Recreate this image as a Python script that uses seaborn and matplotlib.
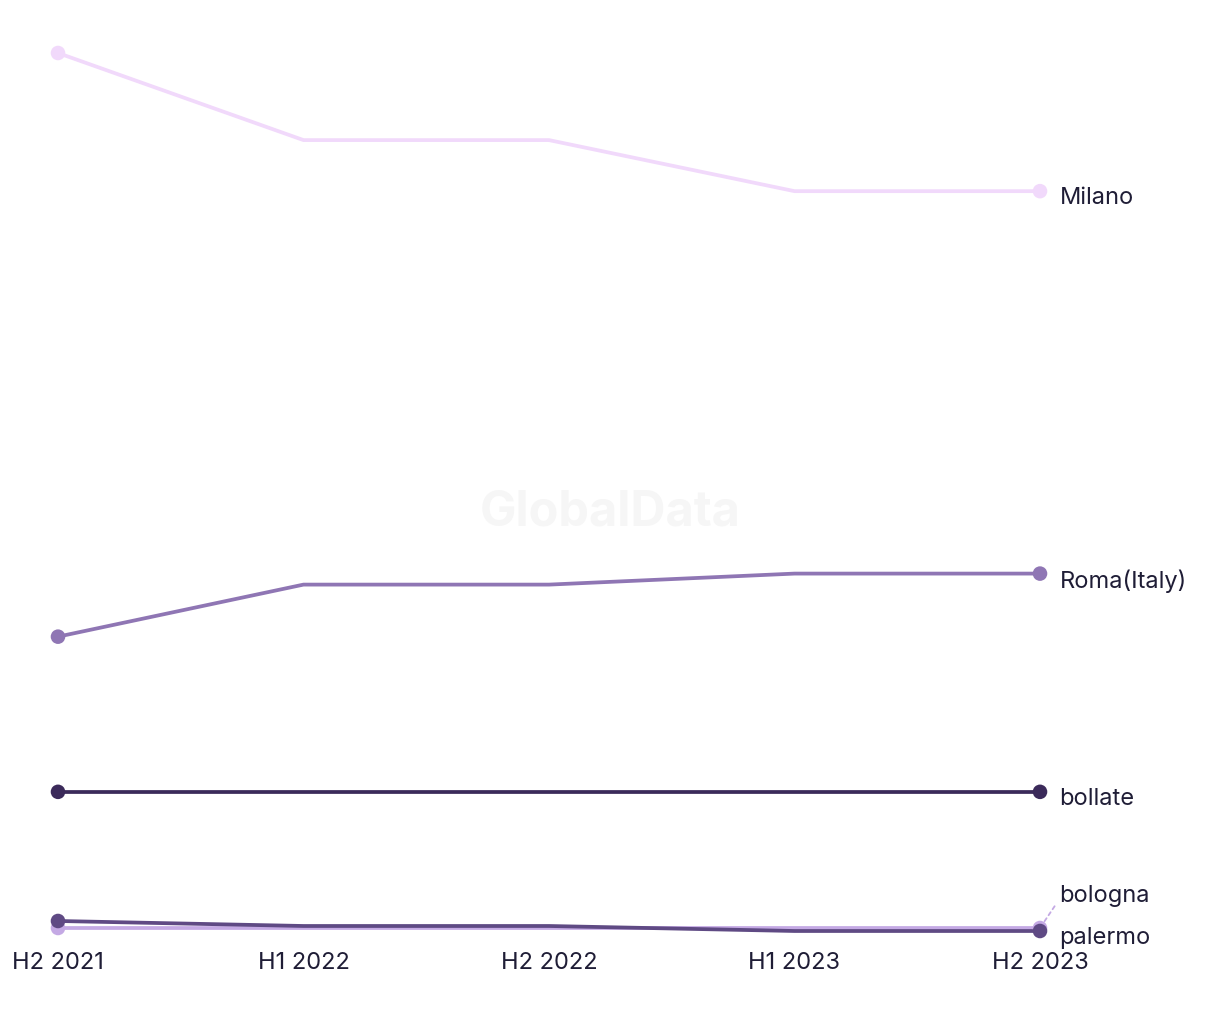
import matplotlib
matplotlib.use("Agg")
import matplotlib.pyplot as plt
import seaborn as sns
import pandas as pd

periods = ["H2 2021", "H1 2022", "H2 2022", "H1 2023", "H2 2023"]
milano = [87.9, 79.2, 79.2, 74.1, 74.1]
roma = [29.6, 34.8, 34.8, 35.9, 35.9]
bollate = [14.1, 14.1, 14.1, 14.1, 14.1]
bologna = [0.5, 0.5, 0.5, 0.5, 0.5]
palermo = [1.2, 0.7, 0.7, 0.2, 0.2]

series = {"Milano": milano, "Roma(Italy)": roma, "bollate": bollate,
          "bologna": bologna, "palermo": palermo}
colors = {"Milano": "#f1d9fb", "Roma(Italy)": "#8f76b4", "bollate": "#3b2a5a",
          "bologna": "#c4a9e4", "palermo": "#5f4a84"}
order = ["Milano", "Roma(Italy)", "bollate", "bologna", "palermo"]

rows = []
for name, vals in series.items():
    for i, (p, v) in enumerate(zip(periods, vals)):
        rows.append({"period": p, "idx": i, "city": name, "value": v})
df = pd.DataFrame(rows)

sns.set_theme(style="white")
plt.rcParams['font.family'] = ['Inter', 'DejaVu Sans']

fig = plt.figure(figsize=(12.2, 10.2), dpi=100)
ax = fig.add_axes([58/1220, (1020-934)/1020, (1040-58)/1220, (934-54)/1020])

sns.lineplot(data=df, x="idx", y="value", hue="city", palette=colors,
             linewidth=2.7, legend=False, ax=ax, clip_on=False, hue_order=order)
ends = df[df["idx"].isin([0, len(periods) - 1])]
sns.scatterplot(data=ends, x="idx", y="value", hue="city", palette=colors,
                s=110, edgecolor="none", legend=False, ax=ax, clip_on=False, zorder=5,
                hue_order=order)

ax.set_xlim(0, len(periods) - 1)
ax.set_ylim(0, 87.9)
ax.set_xticks(range(len(periods)))
ax.set_xticklabels(periods, fontsize=17, color="#1f1d36")
ax.tick_params(axis="x", length=0, pad=13)
ax.set_yticks([])
ax.set_xlabel("")
ax.set_ylabel("")
for s in ax.spines.values():
    s.set_visible(False)

last = len(periods) - 1
offsets = {"Milano": (14, -4.5), "Roma(Italy)": (14, -4.5), "bollate": (14, -4.5),
           "bologna": (14, 24), "palermo": (14, -4.5)}
for name, vals in series.items():
    dx, dy = offsets[name]
    if name == "bologna":
        ax.annotate(name, xy=(last, vals[-1]), xytext=(dx, dy), textcoords="offset points",
                    ha="left", va="center", fontsize=17, color="#1f1d36",
                    annotation_clip=False,
                    arrowprops=dict(arrowstyle="-", linestyle=(0, (2, 2)), color=colors[name],
                                    lw=1.3, shrinkA=2, shrinkB=0,
                                    relpos=(0, 0.3)))
    else:
        ax.annotate(name, xy=(last, vals[-1]), xytext=(dx, dy), textcoords="offset points",
                    ha="left", va="center", fontsize=17, color="#1f1d36",
                    annotation_clip=False)

fig.text(610/1220, 1 - 512/1020, "GlobalData", ha="center", va="center",
         fontsize=35, fontweight="bold", color="#f6f6f6", zorder=0)

fig.savefig("out.png", dpi=100, facecolor="white")
